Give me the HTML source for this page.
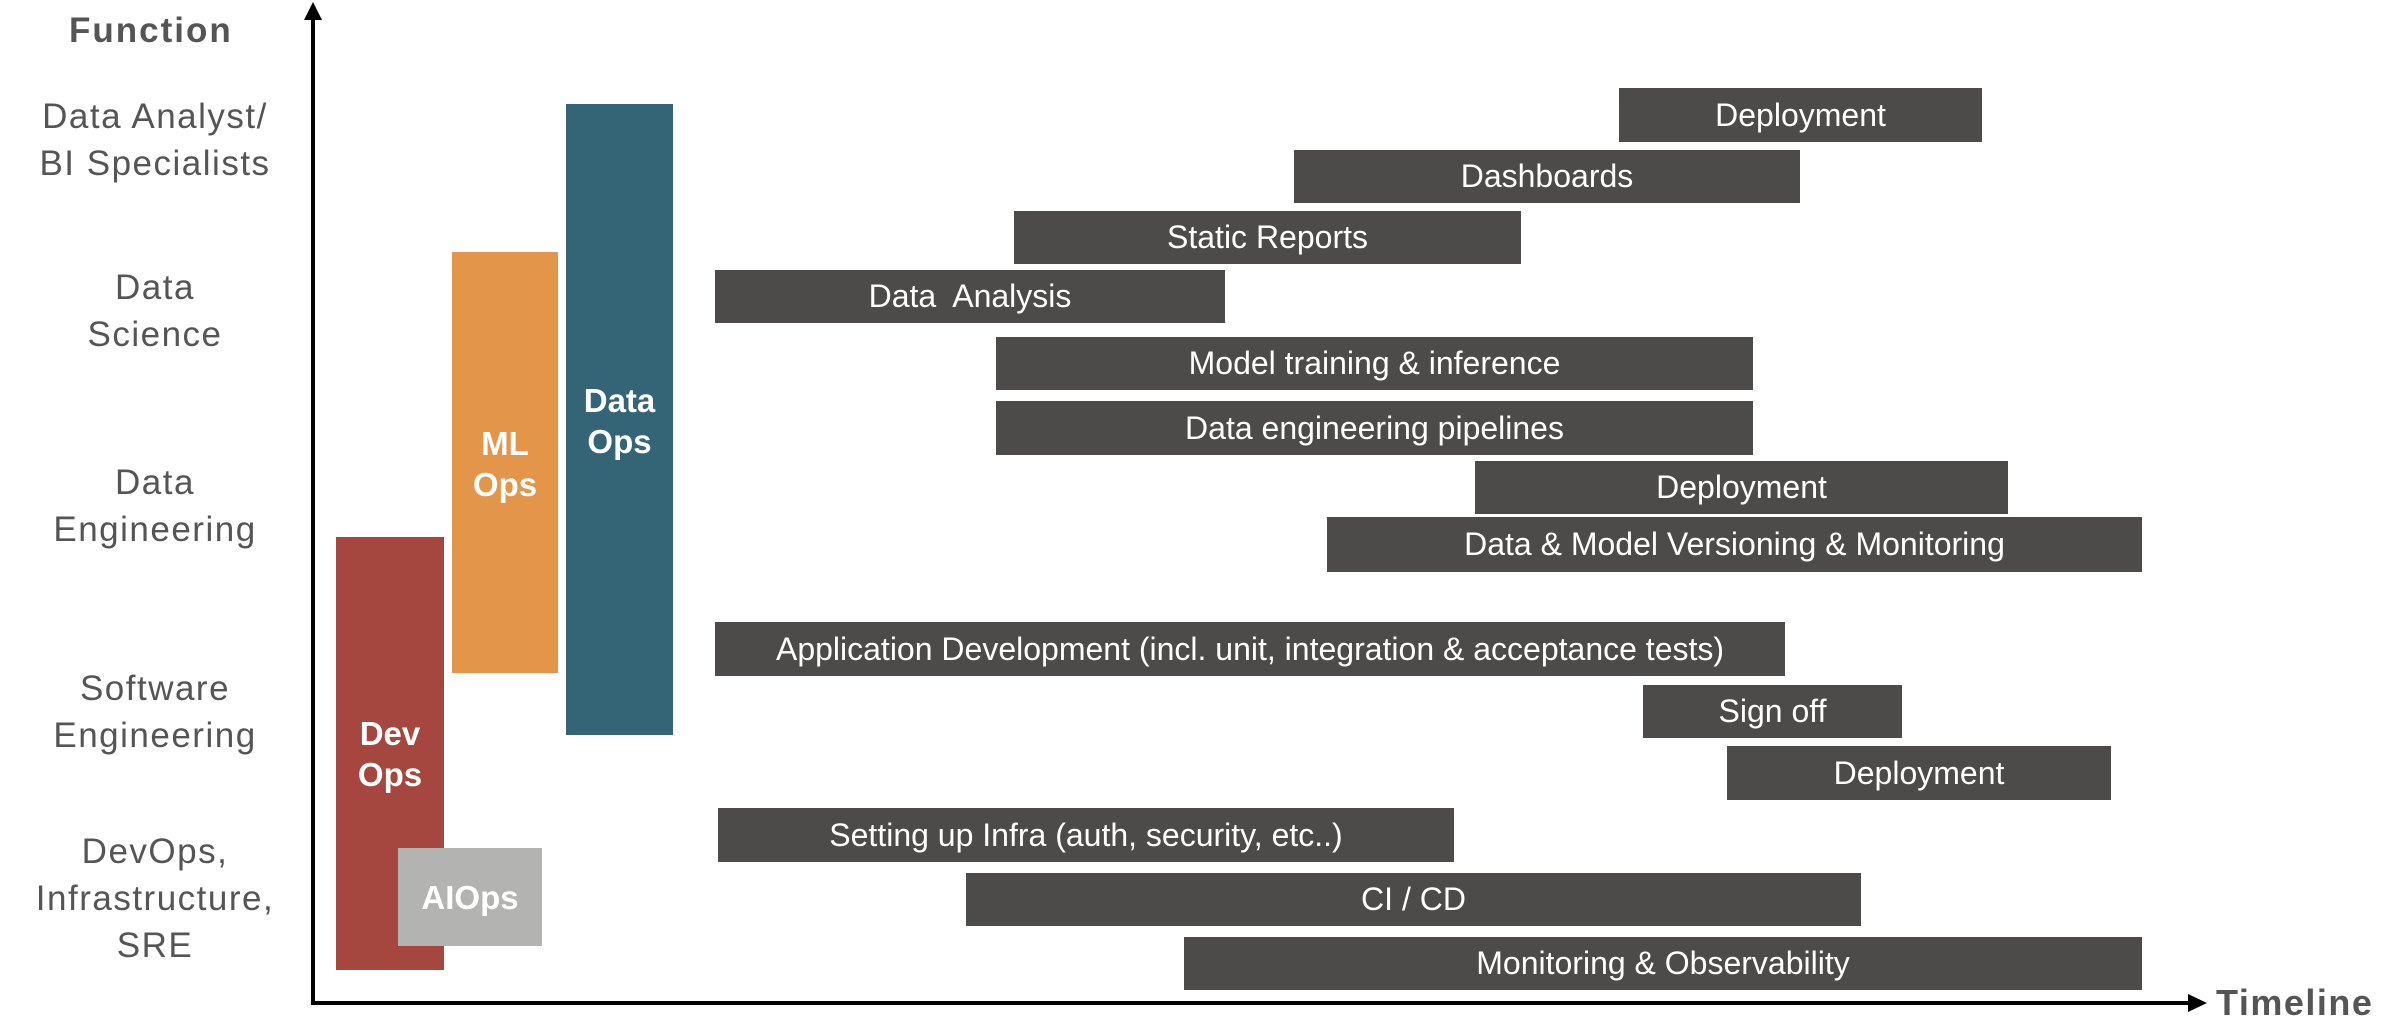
<!DOCTYPE html>
<html><head><meta charset="utf-8"><style>
html,body{margin:0;padding:0;background:#fff;}
body{width:2392px;height:1018px;position:relative;overflow:hidden;font-family:"Liberation Sans",sans-serif;}
.l{position:absolute;width:310px;left:0;text-align:center;color:#555;font-size:35px;letter-spacing:1.5px;line-height:47px;}
.b{position:absolute;background:#4d4b4a;color:#fff;font-size:32px;display:flex;align-items:center;justify-content:center;white-space:nowrap;}
.c{position:absolute;color:#fff;font-weight:bold;font-size:33px;line-height:41px;display:flex;flex-direction:column;align-items:center;text-align:center;}
</style></head><body>
<div style="position:absolute;left:69px;top:11px;font-size:35px;font-weight:bold;color:#555;letter-spacing:2px;">Function</div>
<div class="l" style="top:93px">Data Analyst/<br>BI Specialists</div>
<div class="l" style="top:264px">Data<br>Science</div>
<div class="l" style="top:459px">Data<br>Engineering</div>
<div class="l" style="top:665px">Software<br>Engineering</div>
<div class="l" style="top:828px">DevOps,<br>Infrastructure,<br>SRE</div>

<svg style="position:absolute;left:0;top:0" width="2392" height="1018">
<line x1="313" y1="14" x2="313" y2="1003" stroke="#000" stroke-width="4"/>
<polygon points="313,2 304,20 322,20" fill="#000"/>
<line x1="311" y1="1003" x2="2190" y2="1003" stroke="#000" stroke-width="4"/>
<polygon points="2207,1003 2188,994 2188,1012" fill="#000"/>
</svg>
<div style="position:absolute;left:2216px;top:982px;font-size:36px;font-weight:bold;color:#555;letter-spacing:1.5px;">Timeline</div>

<div class="c" style="left:336px;top:537px;width:108px;height:433px;background:#a5473e;"><div style="margin-top:176px">Dev<br>Ops</div></div>
<div class="c" style="left:452px;top:252px;width:106px;height:421px;background:#e3964a;"><div style="margin-top:171px">ML<br>Ops</div></div>
<div class="c" style="left:566px;top:104px;width:107px;height:631px;background:#336577;"><div style="margin-top:276px">Data<br>Ops</div></div>
<div class="c" style="left:398px;top:848px;width:144px;height:98px;background:#b3b3b2;justify-content:center;">AIOps</div>

<div class="b" style="left:1619px;top:88px;width:363px;height:54px">Deployment</div>
<div class="b" style="left:1294px;top:150px;width:506px;height:53px">Dashboards</div>
<div class="b" style="left:1014px;top:211px;width:507px;height:53px">Static Reports</div>
<div class="b" style="left:715px;top:270px;width:510px;height:53px">Data&nbsp; Analysis</div>
<div class="b" style="left:996px;top:337px;width:757px;height:53px">Model training &amp; inference</div>
<div class="b" style="left:996px;top:401px;width:757px;height:54px">Data engineering pipelines</div>
<div class="b" style="left:1475px;top:461px;width:533px;height:53px">Deployment</div>
<div class="b" style="left:1327px;top:517px;width:815px;height:55px">Data &amp; Model Versioning &amp; Monitoring</div>
<div class="b" style="left:715px;top:622px;width:1070px;height:54px">Application Development (incl. unit, integration &amp; acceptance tests)</div>
<div class="b" style="left:1643px;top:685px;width:259px;height:53px">Sign off</div>
<div class="b" style="left:1727px;top:746px;width:384px;height:54px">Deployment</div>
<div class="b" style="left:718px;top:808px;width:736px;height:54px">Setting up Infra (auth, security, etc..)</div>
<div class="b" style="left:966px;top:873px;width:895px;height:53px">CI / CD</div>
<div class="b" style="left:1184px;top:937px;width:958px;height:53px">Monitoring &amp; Observability</div>
</body></html>
